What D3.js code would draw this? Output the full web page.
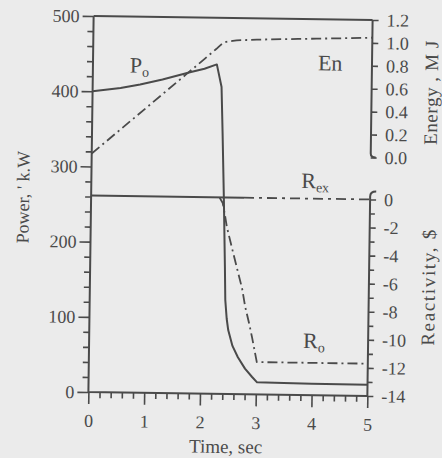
<!DOCTYPE html>
<html>
<head>
<meta charset="utf-8">
<script src="https://cdn.jsdelivr.net/npm/d3@7"></script>
<style>
  html, body { margin: 0; padding: 0; background: #ebebeb; }
  svg { display: block; }
  text { font-family: "Liberation Serif", "DejaVu Serif", serif; fill: #4a4a4a; }
</style>
</head>
<body>
<svg id="chart" width="442" height="458"></svg>
<script>
// Axis tick values
const timeTicks = [0, 1, 2, 3, 4, 5];
const powerTicks = [0, 100, 200, 300, 400, 500];
const energyTicks = [0.0, 0.2, 0.4, 0.6, 0.8, 1.0, 1.2];
const reactTicks = [0, -2, -4, -6, -8, -10, -12, -14];

// Power P_o (kW) against time (s)
const powerTime = [0, 0.5, 0.85, 1.25, 1.74, 2.0, 2.22, 2.31, 2.34, 2.38, 2.415, 2.43, 2.46, 2.49, 2.57, 2.67, 2.8, 2.93, 3.02, 3.5, 4.0, 4.5, 5.0];
const powerVals = [400, 405, 410, 417, 427, 432, 438, 408, 347, 258, 169, 125, 100, 85, 64, 49, 34, 23, 16, 15.5, 15, 15, 15];

// Released energy En (MJ)
const energyTime = [0, 0.5, 1.0, 1.5, 2.0, 2.2, 2.35, 2.5, 2.75, 3.0, 4.0, 5.0];
const energyVals = [0.0, 0.21, 0.42, 0.63, 0.84, 0.925, 0.985, 1.0, 1.01, 1.015, 1.03, 1.045];

// Total reactivity R_o ($)
const reactTime = [0, 2.3, 2.36, 2.40, 2.44, 2.55, 2.65, 2.73, 2.79, 2.86, 2.92, 3.01, 3.5, 4.0, 5.0];
const reactVals = [0, 0, -0.4, -1.2, -2.1, -3.8, -5.3, -6.5, -7.8, -8.9, -9.96, -11.7, -11.7, -11.7, -11.7];

// External reactivity R_ex ($)
const rexTime = [0, 2.74, 5.0];
const rexVals = [0, 0, 0];

const ink = "#4a4a4a";
const svg = d3.select("#chart");
// the printed figure sits slightly turned on the page
const root = svg.append("g").attr("transform", "rotate(0.8, 230.5, 206)");

const x = d3.scaleLinear().domain([0, 5]).range([91, 370]);
const yP = d3.scaleLinear().domain([0, 500]).range([394, 18]);
const yE = d3.scaleLinear().domain([0, 1.2]).range([155.5, 18]);
const yR = d3.scaleLinear().domain([-14, 0]).range([394, 197.5]);

const fmtInt = d => String(d);

function styleAxis(g) {
  g.select(".domain").remove();
  g.selectAll(".tick line").attr("stroke", ink).attr("stroke-width", 1.6);
  g.selectAll(".tick text").attr("font-size", 18).attr("fill", ink)
    .style("font-family", '"Liberation Serif", serif');
}

// Left power axis
root.append("g").attr("transform", `translate(${x(0)},0)`)
  .call(d3.axisLeft(yP).tickValues(d3.range(0, 501, 20).filter(v => v % 100)).tickSize(6).tickFormat(""))
  .call(styleAxis);
root.append("g").attr("transform", `translate(${x(0)},0)`)
  .call(d3.axisLeft(yP).tickValues(powerTicks).tickSize(11).tickPadding(3).tickFormat(fmtInt))
  .call(styleAxis);

// Bottom time axis
root.append("g").attr("transform", `translate(0,${yP(0)})`)
  .call(d3.axisBottom(x).tickValues(d3.range(0, 5.001, 0.2).filter(v => Math.abs(v - Math.round(v)) > 1e-6)).tickSize(6).tickFormat(""))
  .call(styleAxis);
root.append("g").attr("transform", `translate(0,${yP(0)})`)
  .call(d3.axisBottom(x).tickValues(timeTicks).tickSize(12).tickPadding(10).tickFormat(fmtInt))
  .call(styleAxis);

// Right energy axis
root.append("g").attr("transform", `translate(${x(5)},0)`)
  .call(d3.axisRight(yE).tickValues(energyTicks).tickSize(6).tickPadding(8).tickFormat(d3.format(".1f")))
  .call(styleAxis);

// Right reactivity axis
root.append("g").attr("transform", `translate(${x(5)},0)`)
  .call(d3.axisRight(yR).tickValues(d3.range(-13, 0, 2)).tickSize(5).tickFormat(""))
  .call(styleAxis);
root.append("g").attr("transform", `translate(${x(5)},0)`)
  .call(d3.axisRight(yR).tickValues(reactTicks).tickSize(6).tickPadding(8).tickFormat(fmtInt))
  .call(styleAxis);

// Frame and axis spines
const spine = root.append("g").attr("fill", "none").attr("stroke", ink).attr("stroke-width", 2);
spine.append("path").attr("d", `M${x(0)},${yP(500)}H${x(5)}`);
spine.append("path").attr("d", `M${x(0)},${yP(500)}V${yP(0)}H${x(5)}`);
spine.append("path").attr("d", `M${x(5)},${yE(1.2)}V${yE(0) - 4}Q${x(5)},${yE(0)} ${x(5) + 5},${yE(0)}`);
spine.append("path").attr("d", `M${x(5) + 6},${yR(0) - 8}Q${x(5)},${yR(0) - 8} ${x(5)},${yR(0) - 3}V${yR(-14)}`);

// Curves
const lines = root.append("g").attr("fill", "none").attr("stroke", ink).attr("stroke-width", 2)
  .attr("stroke-linejoin", "round");

const powerLine = d3.line().x(d => x(d[0])).y(d => yP(d[1]));
lines.append("path").datum(d3.zip(powerTime, powerVals)).attr("d", powerLine);

const energyLine = d3.line().x(d => x(d[0])).y(d => yE(d[1])).curve(d3.curveMonotoneX);
lines.append("path").datum(d3.zip(energyTime, energyVals)).attr("d", energyLine)
  .attr("stroke-width", 1.8).attr("stroke-dasharray", "10,4,2,4");

const reactLine = d3.line().x(d => x(d[0])).y(d => yR(d[1]));
const reactPts = d3.zip(reactTime, reactVals);
lines.append("path").datum(reactPts.filter(d => d[0] >= 2.3)).attr("d", reactLine)
  .attr("stroke-width", 1.8).attr("stroke-dasharray", "10,4,2,4");

const rexPts = d3.zip(rexTime, rexVals);
lines.append("path").datum(rexPts.slice(0, 2)).attr("d", reactLine);
lines.append("path").datum(rexPts.slice(1)).attr("d", reactLine)
  .attr("stroke-width", 1.8).attr("stroke-dasharray", "10,5,3,5");

// Curve labels
function seriesLabel(px, py, main, sub) {
  const t = root.append("text").attr("x", px).attr("y", py).attr("font-size", 22);
  t.append("tspan").text(main);
  if (sub) t.append("tspan").attr("font-size", 14).attr("dy", 4).text(sub);
}
seriesLabel(128, 74, "P", "o");
seriesLabel(316, 69, "En");
seriesLabel(301, 187, "R", "ex");
seriesLabel(305, 347, "R", "o");

// Axis titles
root.append("text").attr("x", 229).attr("y", 453).attr("text-anchor", "middle")
  .attr("font-size", 19).text("Time, sec");
root.append("text").attr("transform", "translate(29,200) rotate(-90)").attr("text-anchor", "middle")
  .attr("font-size", 18).text("Power, ' k.W");
root.append("text").attr("transform", "translate(436,90) rotate(-90)").attr("text-anchor", "middle")
  .attr("font-size", 19).attr("textLength", 104).attr("lengthAdjust", "spacing").text("Energy , M J");
root.append("text").attr("transform", "translate(436,285) rotate(-90)").attr("text-anchor", "middle")
  .attr("font-size", 19).attr("textLength", 116).attr("lengthAdjust", "spacing").text("Reactivity, $");
</script>
</body>
</html>
